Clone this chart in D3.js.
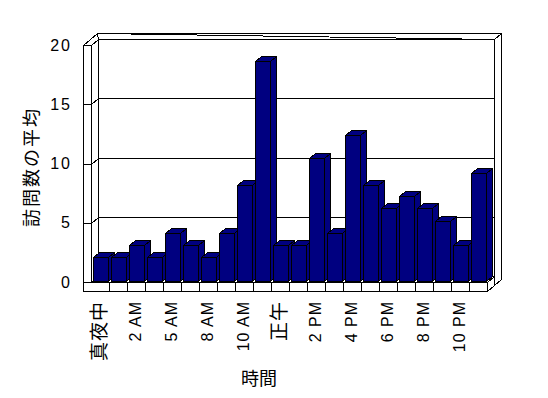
<!DOCTYPE html>
<html>
<head>
<meta charset="utf-8">
<script src="https://cdn.jsdelivr.net/npm/d3@7"></script>
<style>
body{margin:0;background:#fff;}
svg{display:block;font-family:"Liberation Sans","Noto Sans CJK JP",sans-serif;}
</style>
</head>
<body>
<div class="canvas"></div>
<script>
// 時間帯（ラベルは1つおきに表示）
var categories = ["真夜中","1 AM","2 AM","4 AM","5 AM","7 AM","8 AM","9 AM","10 AM","11 AM","正午",
  "1 PM","2 PM","3 PM","4 PM","5 PM","6 PM","7 PM","8 PM","9 PM","10 PM","11 PM"];
// 訪問数の平均
var visits = [2,2,3,2,4,3,2,4,8.1,18.5,3,3,10.3,4,12.3,8.1,6.1,7.1,6.1,5,3,9.1];
var yTicks = [0,5,10,15,20];
var yTitle = "訪問数の平均";
var xTitle = "時間";

var width = 548, height = 398;
var dx = 7, dy = -6;        // 奥行き1つ分のずれ
var sideL = 83;             // 左の壁の外側
var x0 = 91, x1 = 487;      // 床の前の辺

var x = d3.scaleBand().domain(categories).range([x0, x1]);
var y = d3.scaleLinear().domain([0, 20]).range([282, 45]);
var yTop = y(20), yBase = y(0), yBottom = yBase + 9;

var svg = d3.select(".canvas").append("svg")
  .attr("width", width).attr("height", height);
// 1px線をピクセルに合わせる
var plot = svg.append("g").attr("transform", "translate(0.5,0.5)")
  .attr("shape-rendering", "crispEdges");

function snap(pts){ return pts.map(function(p){ return [Math.round(p[0]), Math.round(p[1])]; }); }
function line(g, pts){
  g.append("path").attr("d", d3.line()(snap(pts)))
    .attr("fill", "none").attr("stroke", "#000").attr("stroke-width", 1);
}
function poly(g, pts, fill){
  g.append("path").attr("d", d3.line()(snap(pts)) + "Z")
    .attr("fill", fill).attr("stroke", "#000").attr("stroke-width", 1);
}

var walls = plot.append("g");
// 奥の壁（厚み）
poly(walls, [[sideL+2*dx, yTop+2*dy],[x1+2*dx, yTop+2*dy],[x1+2*dx, yBottom+2*dy],[x1+dx, yBottom+dy],[x1+dx, yTop+dy]], "#fff");
// 奥の壁の前面
poly(walls, [[x0+dx, yTop+dy],[x1+dx, yTop+dy],[x1+dx, yBase+dy],[x0+dx, yBase+dy]], "#fff");
line(walls, [[x1+dx, yTop+dy],[x1+2*dx, yTop+2*dy]]);

// 目盛線
yTicks.forEach(function(v){
  line(walls, [[x0, y(v)],[x0+dx, y(v)+dy],[x1+dx, y(v)+dy]]);
});

// 左の壁
poly(walls, [[sideL, yTop],[sideL+2*dx, yTop+2*dy],[x0+dx, yTop+dy],[x0, yTop]], "#fff");
poly(walls, [[sideL, yTop],[x0, yTop],[x0, yBase],[sideL, yBase]], "#fff");
line(walls, [[x0, yTop],[x0+dx, yTop+dy]]);

// 床
poly(walls, [[x0, yBase],[x1, yBase],[x1+dx, yBase+dy],[x0+dx, yBase+dy]], "#fff");
poly(walls, [[sideL, yBase],[x1, yBase],[x1, yBottom],[sideL, yBottom]], "#fff");
poly(walls, [[x1, yBase],[x1+dx, yBase+dy],[x1+dx, yBottom+dy],[x1, yBottom]], "#fff");
line(walls, [[x1, yBottom],[x1+2*dx, yBottom+2*dy]]);
categories.forEach(function(c, i){
  if(i > 0) line(walls, [[x(c), yBase],[x(c), yBottom]]);
});

// 棒
var bw = 15, bdx = 6, bdy = -5, off = 2, lift = 1.5;
var bars = plot.append("g").selectAll("g")
  .data(categories.map(function(c, i){ return [c, visits[i]]; }))
  .enter().append("g");
bars.each(function(d){
  var g = d3.select(this);
  var bx = x(d[0]) + off;
  var top = y(d[1]) - lift, base = yBase - lift;
  poly(g, [[bx+bw, top],[bx+bw+bdx, top+bdy],[bx+bw+bdx, base+bdy],[bx+bw, base]], "#000080");
  poly(g, [[bx, top],[bx+bdx, top+bdy],[bx+bw+bdx, top+bdy],[bx+bw, top]], "#000080");
  poly(g, [[bx, top],[bx+bw, top],[bx+bw, base],[bx, base]], "#000080");
});

// 縦軸
var axisY = svg.append("g")
  .attr("transform", "translate(" + x0 + ",0)")
  .call(d3.axisLeft(y).tickValues(yTicks).tickSizeInner(x0 - sideL).tickSizeOuter(0).tickPadding(11));
axisY.select(".domain").remove();
axisY.selectAll("line").remove();
axisY.selectAll("text").attr("font-size", "16px").attr("fill", "#000")
  .attr("font-family", "Liberation Sans").attr("letter-spacing", "2px");
// 左の壁の目盛
yTicks.forEach(function(v){ line(walls, [[sideL, y(v)],[x0, y(v)]]); });

// 横軸ラベル
var axisX = svg.append("g")
  .attr("transform", "translate(0," + yBottom + ")")
  .call(d3.axisBottom(x).tickValues(categories.filter(function(d, i){ return i % 2 == 0; })).tickSize(0));
axisX.select(".domain").remove();
axisX.selectAll("text")
  .attr("transform", "rotate(-90)")
  .attr("x", -10).attr("y", 0).attr("dy", "0.33em")
  .style("text-anchor", "end")
  .attr("fill", "#000")
  .attr("font-family", "Liberation Sans, Noto Sans CJK JP")
  .attr("font-size", function(d){ return /[^\x00-\x7f]/.test(d) ? "19px" : "16px"; })
  .attr("letter-spacing", "1px");

// 軸のタイトル
svg.append("text")
  .text(yTitle)
  .attr("transform", "translate(30,167) rotate(-90)")
  .attr("text-anchor", "middle").attr("dominant-baseline", "central")
  .attr("fill", "#000")
  .attr("font-family", "Noto Sans CJK JP").attr("font-size", "18px")
  .attr("letter-spacing", "2px");
svg.append("text")
  .text(xTitle)
  .attr("x", 259).attr("y", 377)
  .attr("text-anchor", "middle").attr("dominant-baseline", "central")
  .attr("fill", "#000")
  .attr("font-family", "Noto Sans CJK JP").attr("font-size", "18px");
</script>
</body>
</html>
